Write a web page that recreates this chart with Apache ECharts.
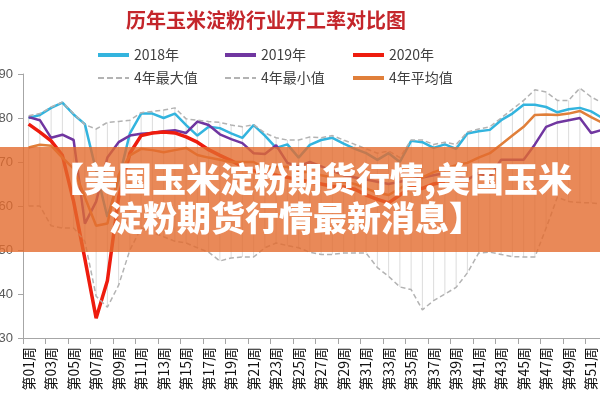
<!DOCTYPE html>
<html><head><meta charset="utf-8">
<script src="https://cdn.jsdelivr.net/npm/echarts@6/dist/echarts.min.js"></script>
<style>html,body{margin:0;padding:0;background:#fff}#c{width:600px;height:400px}</style>
</head><body><div id="c"></div>
<script>
const weeks = [];
for (let i = 1; i <= 52; i++) weeks.push('第' + (i < 10 ? '0' + i : '' + i) + '周');
const yTicks = [30, 40, 50, 60, 70, 80, 90];
const title = '历年玉米淀粉行业开工率对比图';
const bannerText = ['【美国玉米淀粉期货行情,美国玉米', '淀粉期货行情最新消息】'];

const y2018 = [80,80.7,82.3,83.5,80.8,78.6,68,57.5,66,76.5,81,81,80,81,78.4,76,78,77.7,76.5,75.5,78.4,76,73.2,74,71,73.9,75,75.5,74.2,73,72,70.5,72,70,74.8,74.5,73.2,74,73,76.5,77,77.3,79.5,81,83,83,82.5,81.3,82,82.3,81.5,80];
const y2019 = [80.2,79.5,75.5,76.2,75,56,61,71,74.5,76,76.4,76.6,77,77.2,76.6,79.2,78.4,76.3,75.2,74.3,72,71.8,73.8,69.8,69,70,69,68,67,66.5,66,65.5,65,65.5,66,66.5,67,67.5,67,66,67.5,66.6,70.5,70.5,70.5,74,78,79,79.5,80,76.6,77.3];
const y2020 = [78.6,76.8,74.8,71.5,61,48,34.5,43,62,72,76,76.6,76.8,76.6,75.7,74.5,72.8,71.5,70.3,69,68,67.5,67,66.5,66,65.5,65,64.5,64.3,63.8,62.5,61.5,60.7,62.5,64.3,64,65,65.5];
const yMax = [80.5,81,82.5,83.6,81,78.5,77.5,79,79.2,79.5,81.2,81.5,81.8,82.3,79.8,79.5,79.2,79,78.4,78,78.5,76.6,75.5,75,75,75.7,75.5,76,75,74,73,72,72.5,71,75,75,74,74.5,74,76.8,77.5,78,80,82,84,86.4,85.9,84,84,86.8,84.8,83.4];
const yMin = [60,60,55.5,55,55,52,39.5,37,42,50,55,54,53,52,51.6,50.5,49.5,47.5,48.2,48.4,48.4,50.5,51.6,51,50.5,49.5,49,49,49.3,49.3,49.3,46,44,41.6,41,36.4,38.5,40,41.5,44.8,49.3,49.5,49,48.5,48.4,48.4,55,62,61,60.8,60.7,60.5];
const yAvg = [73.3,73.9,73.7,71,68.5,62,55.5,56,67,71.5,73,72.7,72.2,72.7,73.2,71.6,71,70.5,70,70,70,68.6,68.8,68.9,67.7,67.7,67,66.5,65.5,65,64,63,62.5,64,65.5,66.5,67.7,68.5,69.3,69.8,71,72,74,76,78,80.7,80.8,80.7,81,81.6,80.2,78.9];

const names = ['2018年','2019年','2020年','4年最大值','4年最小值','4年平均值'];
const colors = ['#33B4DE','#7036A0','#EE1C0E','#B3B3B3','#B3B3B3','#E07F3A'];
const dashedIcon = 'path://M0,0h6v2h-6z M9,0h6v2h-6z M18,0h6v2h-6z M27,0h4v2h-4z';

const chart = echarts.init(document.getElementById('c'));
const hl = yMin.map((v, i) => [i, v, yMax[i]]);
const legendPos = [[98,48],[225,48],[353,48],[98,71],[225,71],[353,71]];
const legends = names.map((n, i) => ({
  data: [n], left: legendPos[i][0], top: legendPos[i][1], itemWidth: 31,
  itemHeight: (i === 3 || i === 4) ? 2 : 4, itemGap: 0,
  icon: (i === 3 || i === 4) ? dashedIcon : 'rect',
  textStyle: {fontSize: 14, color: '#404040', fontFamily: 'Noto Sans CJK SC', padding: [0, 0, 0, 0]}, padding: 0
}));
function lineSeries(i, data, width, dashed) {
  return {
    name: names[i], type: 'line', data: data, symbol: 'none', smooth: false, z: 3 + i,
    lineStyle: {color: colors[i], width: width, type: dashed ? [5, 3] : 'solid'},
    itemStyle: {color: colors[i]}
  };
}
chart.setOption({
  animation: false,
  title: {text: title, left: 261, top: 5, textAlign: 'center',
    textStyle: {color: '#C4262B', fontSize: 20, fontWeight: 'bold', fontFamily: 'Noto Sans CJK SC'}},
  legend: legends,
  grid: {left: 23, top: 74, width: 585, height: 264, containLabel: false, outerBoundsMode: 'none'},
  xAxis: {
    type: 'category', data: weeks, boundaryGap: true,
    axisLine: {lineStyle: {color: '#A6A6A6', width: 1}},
    axisTick: {show: true, length: 6, lineStyle: {color: '#A6A6A6'}},
    axisLabel: {interval: 1, rotate: 90, fontSize: 14, color: '#111', margin: 9, fontFamily: 'Noto Sans CJK SC'},
    splitLine: {show: false}
  },
  yAxis: {
    type: 'value', min: 30, max: 90, interval: 10,
    axisLine: {show: true, lineStyle: {color: '#A6A6A6'}},
    axisTick: {show: true, length: 5, lineStyle: {color: '#A6A6A6'}},
    axisLabel: {fontSize: 13, color: '#595959', margin: 10},
    splitLine: {show: false}
  },
  series: [
    {
      type: 'custom', data: hl, silent: true, z: 1,
      renderItem: function (params, api) {
        const p1 = api.coord([api.value(0), api.value(1)]);
        const p2 = api.coord([api.value(0), api.value(2)]);
        return {type: 'line', shape: {x1: p1[0], y1: p1[1], x2: p2[0], y2: p2[1]},
          style: {stroke: '#DCDCDC', lineWidth: 1}};
      },
      encode: {x: 0, y: [1, 2]}
    },
    lineSeries(3, yMax, 1.5, true),
    lineSeries(4, yMin, 1.5, true),
    lineSeries(5, yAvg, 2.5, false),
    lineSeries(0, y2018, 2.5, false),
    lineSeries(1, y2019, 2.5, false),
    lineSeries(2, y2020, 3.5, false)
  ],
  graphic: [
    {type: 'rect', left: 0, top: 147, z: 100, shape: {width: 600, height: 105},
      style: {fill: '#E36C2E', opacity: 0.8}},
    {type: 'text', x: 311, y: 179, z: 101,
      style: {text: bannerText[0], fill: '#fff', font: '900 34px "Noto Sans CJK SC"', align: 'center', verticalAlign: 'middle'}},
    {type: 'text', x: 296, y: 218, z: 101,
      style: {text: bannerText[1], fill: '#fff', font: '900 34px "Noto Sans CJK SC"', align: 'center', verticalAlign: 'middle'}}
  ]
});
</script></body></html>
